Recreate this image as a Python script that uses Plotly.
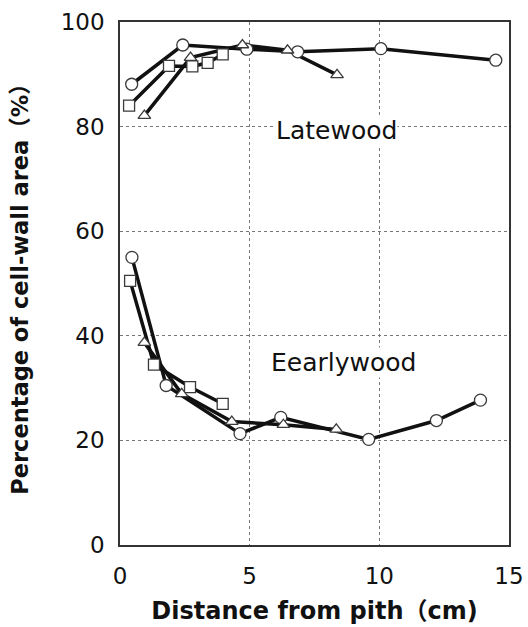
import plotly.graph_objects as go

# Latewood: distance from pith (cm) and cell-wall area (%)
late_circle_x = [0.45, 2.42, 4.89, 6.85, 10.06, 14.49]
late_circle_y = [88.1, 95.6, 94.8, 94.3, 94.9, 92.7]
late_square_x = [0.35, 1.89, 2.79, 3.38, 3.96]
late_square_y = [84.0, 91.6, 91.5, 92.2, 93.8]
late_triangle_x = [0.94, 2.72, 4.72, 6.46, 8.37]
late_triangle_y = [82.1, 93.2, 95.6, 94.6, 89.9]

# Earlywood
early_circle_x = [0.46, 1.78, 4.63, 6.20, 9.59, 12.20, 13.90]
early_circle_y = [55.0, 30.5, 21.3, 24.4, 20.2, 23.8, 27.7]
early_square_x = [0.39, 1.31, 2.70, 3.96]
early_square_y = [50.5, 34.5, 30.2, 27.0]
early_triangle_x = [0.94, 2.38, 4.31, 6.30, 8.34]
early_triangle_y = [38.7, 28.9, 23.6, 23.0, 22.1]

x_ticks = [0, 5, 10, 15]
y_ticks = [0, 20, 40, 60, 80, 100]

FONT = "DejaVu Sans, Noto Sans CJK JP, sans-serif"

series = [
    (late_circle_x, late_circle_y, "circle", 12),
    (late_square_x, late_square_y, "square", 11),
    (late_triangle_x, late_triangle_y, "triangle-up", 11),
    (early_circle_x, early_circle_y, "circle", 12),
    (early_square_x, early_square_y, "square", 11),
    (early_triangle_x, early_triangle_y, "triangle-up", 11),
]

fig = go.Figure()

# connecting lines first so that every marker sits on top
for xs, ys, sym, size in series:
    fig.add_trace(go.Scatter(x=xs, y=ys, mode="lines",
                             line=dict(color="#111111", width=3.5),
                             hoverinfo="skip", showlegend=False))
for xs, ys, sym, size in series:
    fig.add_trace(go.Scatter(x=xs, y=ys, mode="markers",
                             marker=dict(symbol=sym, size=size, color="white",
                                         line=dict(color="#3a3a3a", width=1.3)),
                             showlegend=False))

fig.add_annotation(x=8.34, y=79.2, text="Latewood", showarrow=False,
                   font=dict(family=FONT, size=25, color="#111111"),
                   bgcolor="white", borderpad=0)
fig.add_annotation(x=8.6, y=34.9, text="Eearlywood", showarrow=False,
                   font=dict(family=FONT, size=25, color="#111111"),
                   bgcolor="white", borderpad=0)

fig.update_xaxes(range=[0, 15], tickvals=x_ticks, showgrid=True,
                 gridcolor="#777777", griddash="dot", gridwidth=1,
                 showline=True, mirror=True, linecolor="#333333", linewidth=1.5,
                 zeroline=False, ticks="", ticklabelstandoff=10, automargin=False,
                 tickfont=dict(family=FONT, size=23, color="#111111"),
                 title=dict(text="<b>Distance from pith（cm)</b>", standoff=14,
                            font=dict(family=FONT, size=24, color="#111111")))
fig.update_yaxes(range=[0, 100], tickvals=y_ticks, showgrid=True,
                 gridcolor="#777777", griddash="dot", gridwidth=1,
                 showline=True, mirror=True, linecolor="#333333", linewidth=1.5,
                 zeroline=False, ticks="", ticklabelstandoff=9, automargin=False,
                 tickfont=dict(family=FONT, size=23, color="#111111"),
                 title=dict(text="<b>Percentage of cell-wall area（%）</b>", standoff=26,
                            font=dict(family=FONT, size=22.5, color="#111111")))

fig.update_layout(width=528, height=627, plot_bgcolor="white", paper_bgcolor="white",
                  margin=dict(l=120, r=19, t=22, b=82))

fig.write_html("out.html")
